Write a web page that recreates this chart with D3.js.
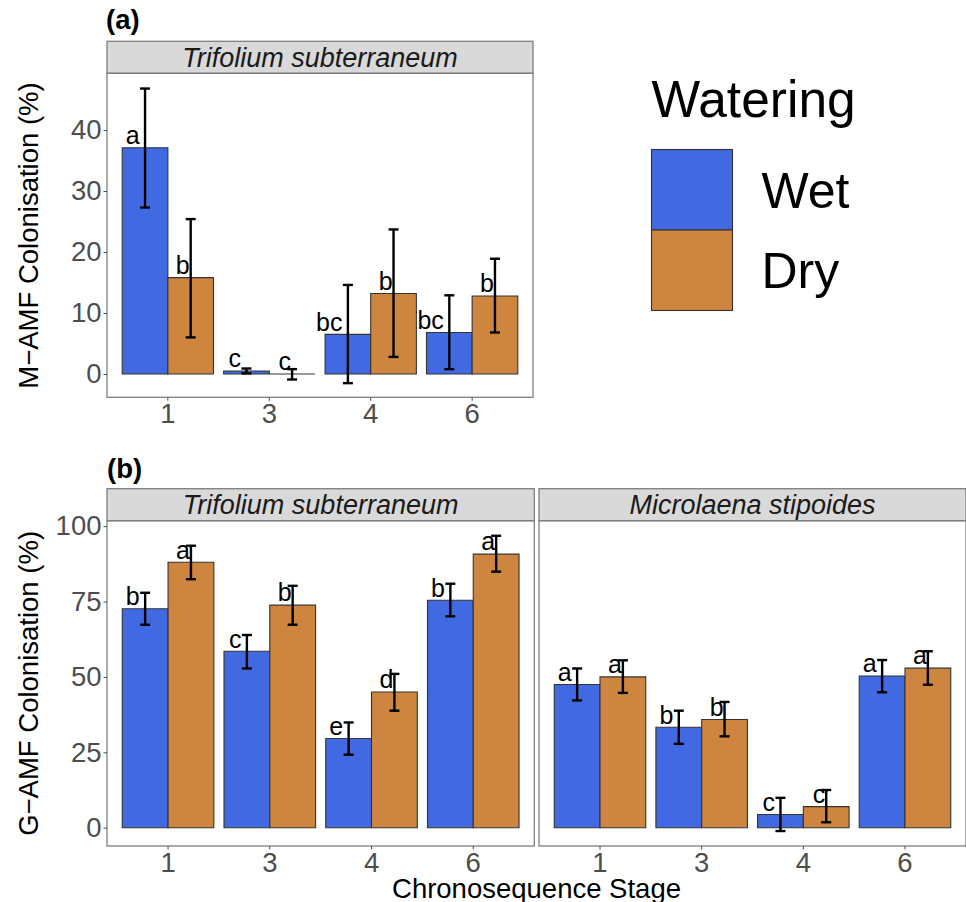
<!DOCTYPE html>
<html>
<head>
<meta charset="utf-8">
<script src="https://cdn.jsdelivr.net/npm/d3@7"></script>
<style>
  body { margin: 0; background: #fff; }
  svg text { font-family: "Liberation Sans", Arial, sans-serif; }
</style>
</head>
<body>
<div id="app"></div>
<script>
const width = 966
const height = 902

const stages = ['1', '3', '4', '6']
const waterings = ['Wet', 'Dry']
const colours = ['#4169E1', '#CD853F']

// (a) M-AMF colonisation, Trifolium subterraneum
const mWet = [37.1, 0.5, 6.5, 6.8]
const mWetLo = [27.3, 0.1, -1.5, 0.8]
const mWetHi = [46.8, 0.9, 14.6, 12.9]
const mWetLetters = ['a', 'c', 'bc', 'bc']
const mDry = [15.8, 0, 13.2, 12.8]
const mDryLo = [6.0, -0.9, 2.8, 6.8]
const mDryHi = [25.4, 0.8, 23.7, 18.9]
const mDryLetters = ['b', 'c', 'b', 'b']
const mTicks = [0, 10, 20, 30, 40]

// (b) G-AMF colonisation, Trifolium subterraneum
const gTriWet = [72.6, 58.5, 29.6, 75.4]
const gTriWetLo = [67.3, 52.8, 24.2, 70.1]
const gTriWetHi = [77.9, 63.9, 34.9, 80.9]
const gTriWetLetters = ['b', 'c', 'e', 'b']
const gTriDry = [88.0, 73.8, 45.0, 90.7]
const gTriDryLo = [82.4, 67.3, 38.8, 84.9]
const gTriDryHi = [93.5, 80.2, 51.0, 96.8]
const gTriDryLetters = ['a', 'b', 'd', 'a']

// (b) G-AMF colonisation, Microlaena stipoides
const gMicWet = [47.5, 33.3, 4.4, 50.3]
const gMicWetLo = [42.2, 27.8, -1.1, 44.9]
const gMicWetHi = [52.8, 38.8, 9.9, 55.6]
const gMicWetLetters = ['a', 'b', 'c', 'a']
const gMicDry = [50.0, 35.9, 7.0, 52.9]
const gMicDryLo = [44.7, 30.3, 1.8, 47.4]
const gMicDryHi = [55.5, 41.7, 12.5, 58.5]
const gMicDryLetters = ['a', 'b', 'c', 'a']
const gTicks = [0, 25, 50, 75, 100]

const fs = 27.5

const svg = d3.select('#app')
  .append('svg')
  .attr('width', width)
  .attr('height', height)

const drawFacet = opt => {
  const { x0, x1, top, bottom, stripTop, domain, ticks, species, yAxis, cap, series } = opt

  const x = d3.scaleBand()
    .domain(stages)
    .range([x0, x1])
    .paddingInner(0)
    .paddingOuter(0.1)

  const xSub = d3.scaleBand()
    .domain(waterings)
    .range([x.bandwidth() * 0.05, x.bandwidth() * 0.95])

  const y = d3.scaleLinear()
    .domain(domain)
    .range([bottom, top])

  const colour = d3.scaleOrdinal().domain(waterings).range(colours)

  // strip
  svg.append('rect')
    .attr('x', x0).attr('y', stripTop)
    .attr('width', x1 - x0).attr('height', top - stripTop)
    .attr('fill', '#d9d9d9')
    .attr('stroke', '#7f7f7f')
    .attr('stroke-width', 1.3)

  svg.append('text')
    .attr('x', (x0 + x1) / 2)
    .attr('y', (stripTop + top) / 2)
    .attr('dy', '0.35em')
    .attr('text-anchor', 'middle')
    .attr('font-style', 'italic')
    .attr('font-size', 27)
    .attr('fill', '#1a1a1a')
    .text(species)

  const rows = stages.flatMap((s, i) => waterings.map((w, j) => ({
    stage: s,
    water: w,
    v: series[j].v[i],
    lo: series[j].lo[i],
    hi: series[j].hi[i],
    lab: series[j].lab[i]
  })))

  const cx = d => x(d.stage) + xSub(d.water) + xSub.bandwidth() / 2

  // bars (paths so a zero bar still shows its outline)
  svg.append('g')
    .selectAll('path')
    .data(rows)
    .join('path')
    .attr('d', d => {
      const bx = x(d.stage) + xSub(d.water)
      const by = y(d.v)
      return `M${bx},${by}H${bx + xSub.bandwidth()}V${y(0)}H${bx}Z`
    })
    .attr('fill', d => colour(d.water))
    .attr('stroke', '#333')
    .attr('stroke-width', 1.1)

  // error bars
  const eb = svg.append('g')
    .attr('stroke', '#000')
    .attr('stroke-width', 2.4)
    .selectAll('g')
    .data(rows)
    .join('g')

  eb.append('line')
    .attr('x1', cx).attr('x2', cx)
    .attr('y1', d => y(d.lo)).attr('y2', d => y(d.hi))
  eb.append('line')
    .attr('x1', d => cx(d) - cap / 2).attr('x2', d => cx(d) + cap / 2)
    .attr('y1', d => y(d.hi)).attr('y2', d => y(d.hi))
  eb.append('line')
    .attr('x1', d => cx(d) - cap / 2).attr('x2', d => cx(d) + cap / 2)
    .attr('y1', d => y(d.lo)).attr('y2', d => y(d.lo))

  // significance letters
  svg.append('g')
    .selectAll('text')
    .data(rows)
    .join('text')
    .attr('x', d => cx(d) - (d.water === 'Wet' ? 5.5 : 1))
    .attr('y', d => y(d.v) - 3.7)
    .attr('text-anchor', 'end')
    .attr('font-size', 25)
    .attr('fill', '#000')
    .text(d => d.lab)

  // panel border
  svg.append('rect')
    .attr('x', x0).attr('y', top)
    .attr('width', x1 - x0).attr('height', bottom - top)
    .attr('fill', 'none')
    .attr('stroke', '#7f7f7f')
    .attr('stroke-width', 1.3)

  const axisX = d3.axisBottom(x).tickSize(3.5).tickPadding(3)
  const gx = svg.append('g')
    .attr('transform', `translate(0, ${bottom})`)
    .call(axisX)
  gx.select('.domain').remove()
  gx.selectAll('line').attr('stroke', '#4d4d4d')
  gx.selectAll('text').attr('font-size', fs).attr('fill', '#4d4d4d').attr('font-family', null)

  if (yAxis) {
    const axisY = d3.axisLeft(y).tickValues(ticks).tickSize(3.5).tickPadding(2)
    const gy = svg.append('g')
      .attr('transform', `translate(${x0}, 0)`)
      .call(axisY)
    gy.select('.domain').remove()
    gy.selectAll('line').attr('stroke', '#4d4d4d')
    gy.selectAll('text').attr('font-size', fs).attr('fill', '#4d4d4d').attr('font-family', null)
  }
}

// (a)
drawFacet({
  x0: 107, x1: 533, top: 73.3, bottom: 397.3, stripTop: 41.3,
  domain: [-3.82, 49.3], ticks: mTicks, species: 'Trifolium subterraneum',
  yAxis: true, cap: 10,
  series: [
    { v: mWet, lo: mWetLo, hi: mWetHi, lab: mWetLetters },
    { v: mDry, lo: mDryLo, hi: mDryHi, lab: mDryLetters }
  ]
})

// (b) left
drawFacet({
  x0: 107, x1: 534.3, top: 520.7, bottom: 846, stripTop: 488.7,
  domain: [-6.07, 101.8], ticks: gTicks, species: 'Trifolium subterraneum',
  yAxis: true, cap: 10,
  series: [
    { v: gTriWet, lo: gTriWetLo, hi: gTriWetHi, lab: gTriWetLetters },
    { v: gTriDry, lo: gTriDryLo, hi: gTriDryHi, lab: gTriDryLetters }
  ]
})

// (b) right
drawFacet({
  x0: 539, x1: 966, top: 520.7, bottom: 846, stripTop: 488.7,
  domain: [-6.07, 101.8], ticks: gTicks, species: 'Microlaena stipoides',
  yAxis: false, cap: 10,
  series: [
    { v: gMicWet, lo: gMicWetLo, hi: gMicWetHi, lab: gMicWetLetters },
    { v: gMicDry, lo: gMicDryLo, hi: gMicDryHi, lab: gMicDryLetters }
  ]
})

// tags
svg.append('text').attr('x', 106).attr('y', 29).attr('font-size', fs)
  .attr('font-weight', 'bold').text('(a)')
svg.append('text').attr('x', 107).attr('y', 478).attr('font-size', fs)
  .attr('font-weight', 'bold').text('(b)')

// axis titles
svg.append('text')
  .attr('transform', 'translate(38, 235.5) rotate(-90)')
  .attr('text-anchor', 'middle').attr('font-size', fs)
  .text('M\u2212AMF Colonisation (%)')
svg.append('text')
  .attr('transform', 'translate(38, 683.4) rotate(-90)')
  .attr('text-anchor', 'middle').attr('font-size', fs)
  .text('G\u2212AMF Colonisation (%)')
svg.append('text')
  .attr('x', 536.5).attr('y', 897.5)
  .attr('text-anchor', 'middle').attr('font-size', fs)
  .text('Chronosequence Stage')

// legend
const legend = svg.append('g')
legend.append('text')
  .attr('x', 651.5).attr('y', 116.7)
  .attr('font-size', 51.5)
  .text('Watering')
const key = legend.selectAll('g.key')
  .data(waterings)
  .join('g')
  .attr('class', 'key')
  .attr('transform', (d, i) => `translate(651.5, ${149.5 + i * 80.5})`)
key.append('rect')
  .attr('width', 81).attr('height', 80.5)
  .attr('fill', (d, i) => colours[i])
  .attr('stroke', '#333')
  .attr('stroke-width', 1.1)
key.append('text')
  .attr('x', 110).attr('y', 40.25)
  .attr('dy', '0.36em')
  .attr('font-size', 50)
  .text(d => d)
</script>
</body>
</html>
